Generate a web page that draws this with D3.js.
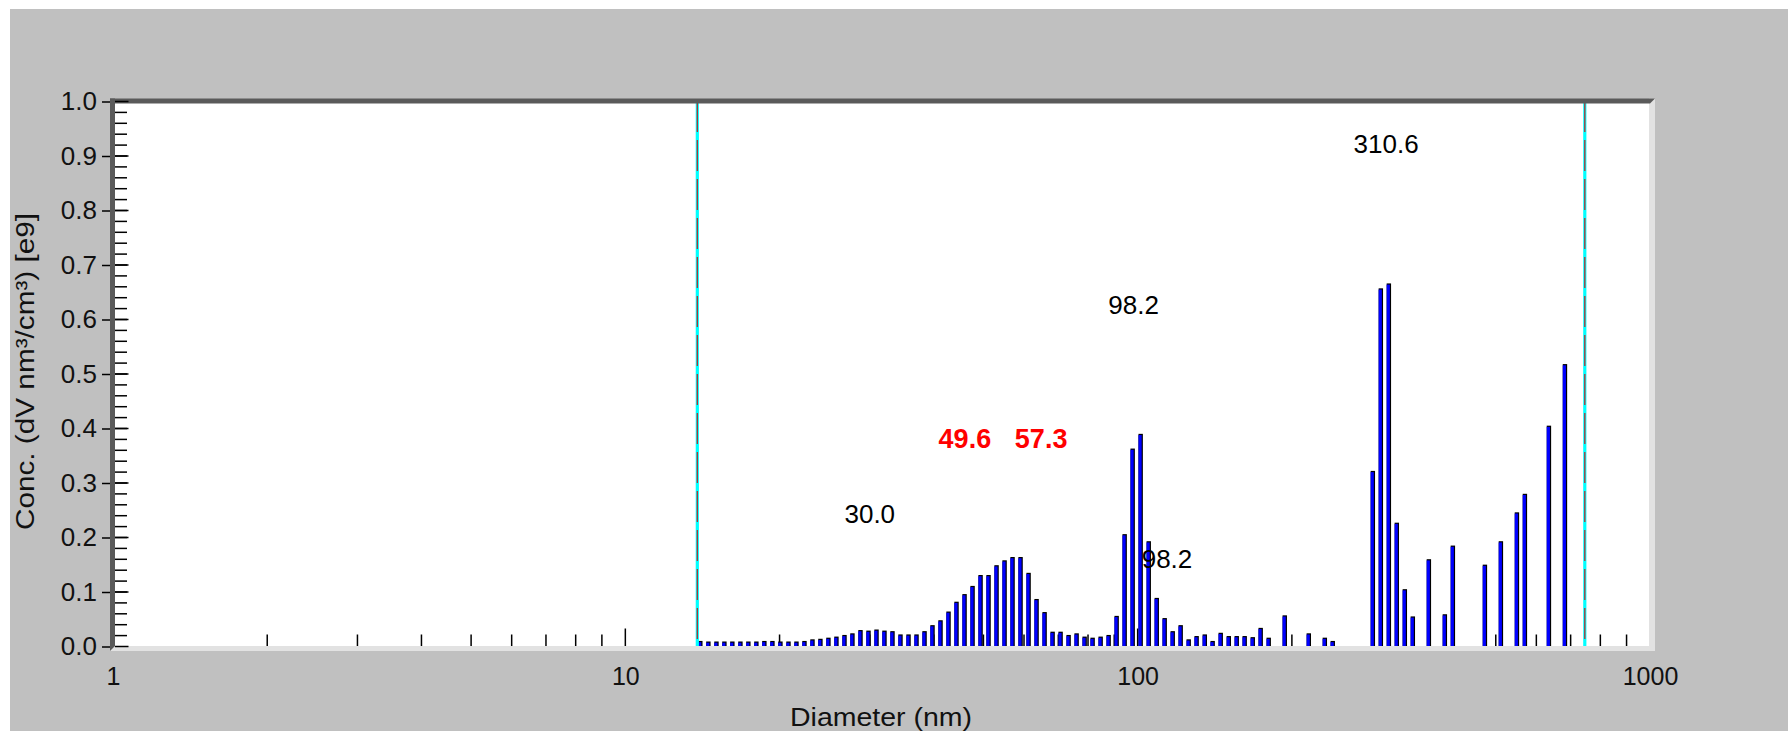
<!DOCTYPE html>
<html><head><meta charset="utf-8">
<script src="https://cdn.jsdelivr.net/npm/d3@7"></script>
<style>html,body{margin:0;padding:0;background:#fff;} svg{display:block;}</style>
</head><body><svg id="chart" width="1788" height="731"></svg>
<script>
// ---- data ----
const diameters = [13.82,14.33,14.86,15.40,15.96,16.55,17.15,17.78,18.43,19.11,19.81,20.54,21.29,22.07,22.88,23.71,24.58,25.48,26.42,27.38,
  28.39,29.43,30.51,31.62,32.78,33.98,35.23,36.52,37.86,39.24,40.68,42.17,43.71,45.32,46.98,48.70,50.48,52.33,54.25,56.23,
  58.29,60.43,62.64,64.94,67.32,69.78,72.34,74.99,77.74,80.58,83.54,86.60,89.77,93.06,96.47,100.0,103.7,107.5,111.4,115.5,
  119.7,124.1,128.6,133.4,138.2,143.3,148.6,154.0,159.6,165.5,171.5,177.8,191.1,212.9,228.8,237.1,283.9,294.3,305.1,316.2,
  327.8,339.8,365.2,392.4,406.8,469.8,504.8,542.5,562.3,626.4,673.2];
const concentrations = [0.008,0.007,0.007,0.007,0.007,0.007,0.007,0.007,0.008,0.008,0.007,0.007,0.007,0.008,0.011,0.012,0.014,0.016,0.019,0.022,
  0.028,0.027,0.029,0.027,0.026,0.020,0.020,0.020,0.026,0.037,0.046,0.062,0.080,0.094,0.109,0.129,0.129,0.147,0.156,0.162,
  0.162,0.133,0.085,0.061,0.025,0.025,0.019,0.022,0.016,0.014,0.016,0.019,0.054,0.204,0.361,0.388,0.191,0.087,0.050,0.026,
  0.037,0.011,0.017,0.020,0.008,0.023,0.017,0.017,0.017,0.015,0.032,0.014,0.055,0.022,0.014,0.008,0.320,0.655,0.664,0.225,
  0.103,0.053,0.158,0.057,0.183,0.148,0.191,0.244,0.278,0.403,0.516];
const yTickValues = [0,0.1,0.2,0.3,0.4,0.5,0.6,0.7,0.8,0.9,1.0];
const xTickValues = [1,10,100,1000];
const cursorDiameters = [13.82, 746];
const labelTexts = ["310.6","98.2","98.2","30.0","49.6","57.3"];
const labelDiameters = [305.4, 98.2, 114.1, 30.0, 46.0, 64.8];
const labelConcs = [0.922, 0.628, 0.161, 0.244, 0.383, 0.383];
const labelHighlighted = [false,false,false,false,true,true];
const xTitle = "Diameter (nm)";
const yTitle = "Conc. (dV nm³/cm³) [e9]";

// ---- layout ----
const W = 1788, H = 731;
const PL = 113, PR = 1650, PT = 101.5, PB = 646.5;
const FONT = "'Liberation Sans', Arial, sans-serif";

const svg = d3.select("#chart");
const x = d3.scaleLog().domain([1, 1000]).range([PL, PR]);
const y = d3.scaleLinear().domain([0, 1]).range([PB, PT]);

// backgrounds
svg.append("rect").attr("x",0).attr("y",0).attr("width",W).attr("height",H).attr("fill","#ffffff");
svg.append("rect").attr("x",10).attr("y",9).attr("width",W-10).attr("height",H-9).attr("fill","#c0c0c0");
svg.append("rect").attr("x",115).attr("y",103).attr("width",1649-115).attr("height",PB-103).attr("fill","#ffffff");

// x minor / major ticks inside the plot (from the bottom up)
const xMinor = [];
[1,10,100].forEach(dec => { for (let m = 2; m <= 9; m++) xMinor.push(dec*m); });
svg.append("g").selectAll("line").data(xMinor).join("line")
  .attr("x1", d => x(d)).attr("x2", d => x(d))
  .attr("y1", PB).attr("y2", PB - 12)
  .attr("stroke", "#000").attr("stroke-width", 1.5);
svg.append("g").selectAll("line").data([10,100]).join("line")
  .attr("x1", d => x(d)).attr("x2", d => x(d))
  .attr("y1", PB).attr("y2", PB - 18)
  .attr("stroke", "#000").attr("stroke-width", 1.5);

// bars
const bars = diameters.map((d,i) => ({d, v: concentrations[i]}));
const gb = svg.append("g");
gb.selectAll("rect.sh").data(bars).join("rect").attr("class","sh")
  .attr("x", b => x(b.d) + 0.8).attr("y", b => y(b.v) - 1.2)
  .attr("width", 4.4).attr("height", b => PB - y(b.v) + 1.2)
  .attr("fill", "#000");
gb.selectAll("rect.bl").data(bars).join("rect").attr("class","bl")
  .attr("x", b => x(b.d) + 0.8).attr("y", b => y(b.v))
  .attr("width", 3.2).attr("height", b => PB - y(b.v))
  .attr("fill", "#0000ff");

// cursor lines
const gc = svg.append("g");
gc.selectAll("line.cy").data(cursorDiameters).join("line").attr("class","cy")
  .attr("x1", d => x(d)).attr("x2", d => x(d)).attr("y1", 103).attr("y2", PB)
  .attr("stroke", "#00ffff").attr("stroke-width", 3.2);
gc.selectAll("line.rd").data(cursorDiameters).join("line").attr("class","rd")
  .attr("x1", d => x(d)).attr("x2", d => x(d)).attr("y1", 101).attr("y2", PB)
  .attr("stroke", "#b03030").attr("stroke-width", 1.3).attr("stroke-dasharray", "31,8");

// frame: light right/bottom, dark top/left
svg.append("rect").attr("x",1649).attr("y",98.5).attr("width",6).attr("height",552.5).attr("fill","#e2e2e2");
svg.append("rect").attr("x",110).attr("y",646).attr("width",1545).attr("height",5).attr("fill","#e2e2e2");
svg.append("polygon").attr("points","110,98.5 1655,98.5 1650,103.5 110,103.5").attr("fill","#5a5a5a");
svg.append("polygon").attr("points","110,98.5 115,98.5 115,646 110,651").attr("fill","#5a5a5a");

// y axis (labels + outside major ticks)
const yAxis = d3.axisLeft(y).tickValues(yTickValues).tickFormat(d3.format(".1f"))
  .tickSize(8).tickPadding(5);
const gy = svg.append("g").attr("transform","translate(110,0)").call(yAxis);
gy.select(".domain").remove();
gy.selectAll(".tick line").attr("stroke","#000").attr("stroke-width",1.5);
gy.selectAll(".tick text").attr("font-family",FONT).attr("font-size",26).attr("fill","#111");

// y inside ticks: major + minor every 0.02
const yMinor = d3.range(1, 50).map(i => i/50);
svg.append("g").selectAll("line").data(yMinor).join("line")
  .attr("x1", 115).attr("x2", 127).attr("y1", d => y(d)).attr("y2", d => y(d))
  .attr("stroke","#000").attr("stroke-width",1.5);
svg.append("g").selectAll("line").data(yTickValues).join("line")
  .attr("x1", 115).attr("x2", 128.5).attr("y1", d => y(d)).attr("y2", d => y(d))
  .attr("stroke","#000").attr("stroke-width",1.5);

// x axis labels
const xAxis = d3.axisBottom(x).tickValues(xTickValues).tickFormat(d3.format("d"))
  .tickSize(0).tickPadding(21);
const gx = svg.append("g").attr("transform",`translate(0,${PB})`).call(xAxis);
gx.select(".domain").remove();
gx.selectAll(".tick line").remove();
gx.selectAll(".tick text").attr("font-family",FONT).attr("font-size",25).attr("fill","#111");

// axis titles
svg.append("text").attr("x", 881).attr("y", 726).attr("text-anchor","middle")
  .attr("font-family",FONT).attr("font-size",25).attr("fill","#111")
  .attr("textLength",182).attr("lengthAdjust","spacingAndGlyphs").text(xTitle);
svg.append("text").attr("transform","translate(34,371.5) rotate(-90)").attr("text-anchor","middle")
  .attr("font-family",FONT).attr("font-size",25).attr("fill","#111")
  .attr("textLength",317).attr("lengthAdjust","spacingAndGlyphs").text(yTitle);

// peak labels
const labels = labelTexts.map((t,i) => ({t, d: labelDiameters[i], v: labelConcs[i], hi: labelHighlighted[i]}));
svg.append("g").selectAll("text").data(labels).join("text")
  .attr("x", l => x(l.d)).attr("y", l => y(l.v) + (l.hi ? 10 : 9.3))
  .attr("text-anchor","middle").attr("font-family",FONT)
  .attr("font-size", l => l.hi ? 27 : 26)
  .attr("font-weight", l => l.hi ? "bold" : "normal")
  .attr("fill", l => l.hi ? "#ff0000" : "#000")
  .text(l => l.t);
</script></body></html>
